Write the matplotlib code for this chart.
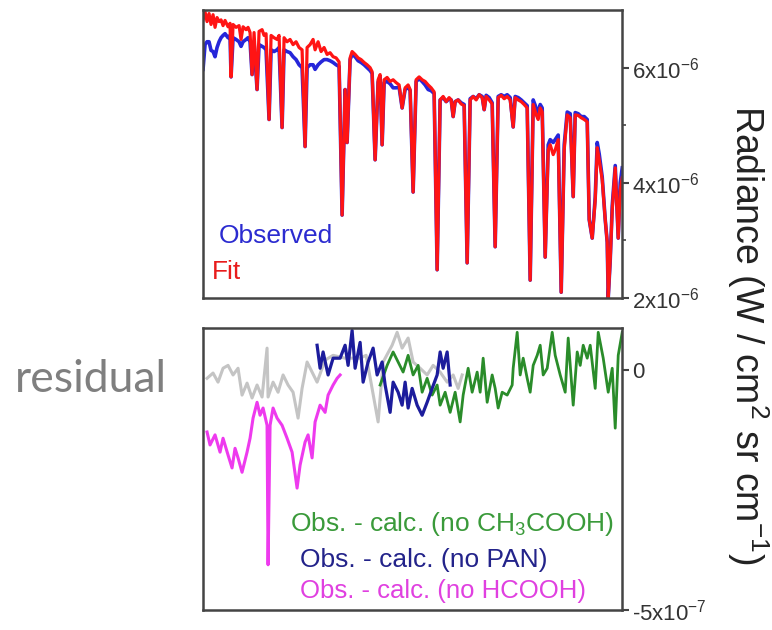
import matplotlib
matplotlib.use("Agg")
import matplotlib.pyplot as plt

# --- Fonts ---
plt.rcParams['font.family'] = ['Liberation Sans', 'DejaVu Sans']
plt.rcParams['mathtext.fontset'] = 'custom'
plt.rcParams['mathtext.rm'] = 'Liberation Sans'
plt.rcParams['mathtext.it'] = 'Liberation Sans'
plt.rcParams['mathtext.default'] = 'regular'

# --- Spectrum (radiance in 1e-6 W / cm2 sr cm-1), channel index ---
x_spec = [0, 2, 4, 6, 8, 10, 12, 14, 16, 18,
          20, 22, 25, 27, 28, 30, 33, 36, 38, 40,
          43, 45, 47, 49, 51, 54, 56, 59, 61, 63,
          66, 68, 71, 74, 76, 79, 81, 84, 87, 90,
          93, 96, 99, 102, 104, 107, 110, 112, 115, 118,
          121, 124, 127, 130, 133, 136, 139, 142, 144, 147,
          149, 152, 155, 158, 161, 164, 167, 169, 172, 175,
          177, 179, 181, 184, 187, 190, 193, 196, 199, 202,
          205, 207, 210, 213, 216, 219, 222, 225, 228, 231,
          234, 237, 240, 243, 246, 248, 250, 252, 255, 258,
          261, 264, 267, 270, 273, 276, 279, 281, 283, 286,
          289, 292, 295, 298, 301, 304, 307, 310, 312, 315,
          318, 321, 324, 327, 330, 333, 335, 337, 339, 342,
          345, 347, 350, 352, 355, 358, 361, 364, 367, 370,
          372, 375, 378, 381, 384, 386, 389, 392, 394, 396,
          399, 402, 404, 405, 407, 409, 412, 415, 417, 419]

fit = [6.83, 6.97, 6.80, 6.94, 6.75, 6.92, 6.70, 6.87, 6.80, 6.83,
       6.73, 6.82, 6.71, 6.77, 5.84, 6.75, 6.70, 6.73, 6.49, 6.71,
       6.66, 6.70, 6.61, 5.88, 6.61, 5.62, 6.63, 6.66, 6.56, 6.59,
       5.10, 6.56, 6.52, 6.49, 6.56, 4.96, 6.52, 6.45, 6.49, 6.40,
       6.45, 6.35, 6.31, 4.63, 6.35, 6.40, 6.49, 6.31, 6.45, 6.28,
       6.35, 6.23, 6.26, 6.19, 6.17, 6.10, 3.44, 5.62, 4.70, 6.17,
       6.28, 6.23, 6.17, 6.14, 6.09, 6.05, 6.00, 5.93, 4.40, 5.79,
       5.88, 4.66, 5.79, 5.83, 5.76, 5.79, 5.74, 5.70, 5.30, 5.65,
       5.70, 5.62, 3.84, 5.79, 5.84, 5.79, 5.76, 5.70, 5.65, 5.58,
       2.49, 5.44, 5.50, 5.41, 5.48, 5.44, 5.15, 5.41, 5.44, 5.37,
       5.34, 2.61, 5.44, 5.50, 5.44, 5.53, 5.48, 5.27, 5.50, 5.44,
       5.37, 2.89, 5.48, 5.52, 5.46, 5.50, 5.44, 4.97, 5.48, 5.44,
       5.41, 5.36, 5.30, 2.31, 5.36, 5.18, 5.10, 5.30, 5.23, 2.71,
       4.57, 4.66, 4.49, 4.57, 4.75, 2.10, 4.57, 5.18, 5.13, 3.76,
       5.18, 5.17, 5.13, 5.10, 5.06, 3.36, 3.04, 3.70, 4.61, 4.40,
       4.05, 3.36, 2.97, 2.00, 2.66, 3.53, 4.26, 3.04, 3.88, 4.09]

observed = [5.97, 6.40, 6.45, 6.45, 6.30, 6.28, 6.19, 6.35, 6.45, 6.52,
            6.56, 6.59, 6.52, 6.56, 5.84, 6.52, 6.49, 6.45, 6.37, 6.45,
            6.49, 6.52, 6.45, 5.88, 6.45, 5.62, 6.40, 6.37, 6.35, 6.31,
            5.10, 6.31, 6.28, 6.31, 6.35, 4.96, 6.31, 6.28, 6.26, 6.19,
            6.14, 6.05, 6.00, 4.63, 6.00, 6.05, 6.05, 5.97, 6.05, 6.10,
            6.14, 6.14, 6.12, 6.09, 6.05, 6.02, 3.44, 5.62, 4.70, 6.14,
            6.23, 6.19, 6.12, 6.09, 6.05, 6.00, 5.95, 5.90, 4.40, 5.75,
            5.84, 4.66, 5.74, 5.76, 5.72, 5.65, 5.65, 5.66, 5.30, 5.62,
            5.66, 5.60, 3.84, 5.76, 5.81, 5.76, 5.70, 5.62, 5.60, 5.55,
            2.49, 5.44, 5.48, 5.41, 5.46, 5.44, 5.15, 5.41, 5.44, 5.39,
            5.36, 2.61, 5.46, 5.50, 5.46, 5.53, 5.50, 5.27, 5.52, 5.48,
            5.39, 2.89, 5.50, 5.53, 5.50, 5.53, 5.48, 4.97, 5.50, 5.48,
            5.44, 5.39, 5.34, 2.31, 5.44, 5.30, 5.20, 5.36, 5.30, 2.71,
            4.66, 4.75, 4.70, 4.75, 4.83, 2.10, 4.66, 5.23, 5.20, 3.76,
            5.22, 5.20, 5.15, 5.15, 5.10, 3.36, 3.04, 3.75, 4.70, 4.50,
            4.10, 3.36, 2.97, 2.00, 2.66, 3.60, 4.30, 3.04, 4.00, 4.26]

# --- Residuals (1e-7 units) ---
x_gray = [4, 10, 15, 20, 25, 30, 35, 39, 44, 49, 54, 59, 64, 65, 70, 75,
          80, 85, 90, 95, 99, 104, 109, 114, 122, 130, 142, 157, 163, 175,
          180, 189, 194, 199, 205, 210, 217, 224, 230, 237, 244, 250, 255, 259]
res_gray = [-0.17, -0.06, -0.25, 0.04, 0.10, -0.10, 0.04, -0.52, -0.27, -0.58,
            -0.31, -0.56, 0.46, -0.56, -0.25, -0.46, -0.10, -0.31, -0.46, -1.00,
            -0.38, 0.17, -0.04, -0.25, 0.21, 0.31, 0.25, 0.25, 0.31, -1.08,
            0.17, 0.52, 0.79, 0.46, 0.67, 0.17, 0.04, -0.10, 0.10, -0.04,
            -0.25, -0.10, -0.38, -0.10]

x_hcooh = [4, 7, 12, 17, 20, 25, 29, 32, 35, 39, 44, 47, 50, 54, 57, 60,
           64, 65, 67, 70, 74, 79, 84, 89, 94, 97, 102, 105, 109, 112, 117,
           122, 125, 130, 134, 137]
res_hcooh = [-1.29, -1.56, -1.35, -1.71, -1.42, -1.77, -2.04, -1.63, -1.83, -2.13,
             -1.71, -1.42, -1.00, -0.67, -0.94, -0.79, -1.15, -4.06, -1.15, -0.79,
             -1.00, -1.15, -1.42, -1.71, -2.46, -1.98, -1.50, -1.35, -1.83, -1.08,
             -0.73, -0.88, -0.52, -0.31, -0.17, -0.10]

x_pan = [114, 117, 120, 125, 130, 137, 142, 145, 149, 152, 157, 160, 165,
         170, 174, 179, 182, 187, 190, 195, 199, 202, 205, 209, 214, 219,
         224, 229, 234, 237, 240, 244, 247]
res_pan = [0.52, 0.04, 0.38, -0.10, 0.25, 0.25, 0.52, 0.10, 0.83, 0.04,
           0.58, -0.25, 0.17, 0.46, -0.10, 0.17, -0.31, -0.88, -0.25, -0.46,
           -0.73, -0.25, -0.79, -0.38, -0.73, -0.94, -0.67, -0.38, -0.10, 0.38,
           0.04, 0.38, -0.31]

x_ch3cooh = [177, 184, 190, 195, 200, 205, 210, 215, 219, 224, 229, 234, 237,
             242, 247, 252, 257, 260, 265, 269, 274, 277, 280, 284, 289, 292,
             295, 299, 304, 309, 310, 314, 317, 320, 324, 327, 330, 334, 337,
             340, 344, 349, 352, 357, 362, 365, 370, 374, 377, 380, 384, 387,
             392, 395, 400, 405, 409, 412, 415, 419]
res_ch3cooh = [-0.31, 0.10, 0.38, 0.17, -0.04, 0.31, -0.10, 0.10, -0.46, -0.17,
               -0.52, -0.31, -0.73, -0.46, -0.88, -0.46, -1.08, -0.52, 0.04, -0.46,
               -0.04, -0.46, 0.25, -0.67, -0.10, -0.38, -0.79, -0.46, -0.52, -0.31,
               0.04, 0.79, -0.10, 0.25, -0.17, -0.46, 0.10, 0.31, 0.52, -0.10,
               0.04, 0.79, 0.31, -0.10, -0.46, 0.67, -0.73, 0.38, 0.10, 0.52,
               0.25, 0.52, -0.38, 0.79, 0.25, -0.46, 0.04, -1.21, 0.31, 0.79]

top_ticks = [2, 4, 6]
top_labels = [r'$2x10^{-6}$', r'$4x10^{-6}$', r'$6x10^{-6}$']
bot_ticks = [-5, 0]
bot_labels = [r'-$5x10^{-7}$', '0']

# --- Figure ---
fig = plt.figure(figsize=(7.72, 6.3), dpi=100)
ax1 = fig.add_axes([0.263, 0.527, 0.543, 0.457])
ax2 = fig.add_axes([0.263, 0.032, 0.543, 0.447])

ax1.plot(x_spec, observed, color='#2626d9', lw=2.6)
ax1.plot(x_spec, fit, color='#ff1414', lw=2.3)
ax1.set_ylim(2, 7)
ax1.set_yticks(top_ticks)
ax1.set_yticklabels(top_labels)
ax1.set_yticks([3, 5], minor=True)
ax1.text(0.038, 0.19, 'Observed', color='#2b2bd0', fontsize=19,
         transform=ax1.transAxes)
ax1.text(0.021, 0.066, 'Fit', color='#e81c1c', fontsize=19,
         transform=ax1.transAxes)

ax2.plot(x_gray, res_gray, color='#c4c4c4', lw=2.2)
ax2.plot(x_hcooh, res_hcooh, color='#ee3aee', lw=2.2)
ax2.plot(x_ch3cooh, res_ch3cooh, color='#2a8c2a', lw=2.0)
ax2.plot(x_pan, res_pan, color='#1c1c9c', lw=2.3)
ax2.set_ylim(-5, 0.875)
ax2.set_yticks(bot_ticks)
ax2.set_yticklabels(bot_labels)
ax2.text(0.208, 0.28, r'Obs. - calc. (no CH$_3$COOH)', color='#3a9a3a',
         fontsize=19, transform=ax2.transAxes)
ax2.text(0.231, 0.152, 'Obs. - calc. (no PAN)', color='#23238a',
         fontsize=19, transform=ax2.transAxes)
ax2.text(0.231, 0.043, 'Obs. - calc. (no HCOOH)', color='#e040e0',
         fontsize=18.5, transform=ax2.transAxes)

for ax in (ax1, ax2):
    ax.set_xlim(0, 419)
    ax.set_xticks([])
    ax.yaxis.tick_right()
    ax.tick_params(axis='y', which='major', length=5, width=1.5,
                   color='#444444', labelsize=16, labelcolor='#333333', pad=2)
    ax.tick_params(axis='y', which='minor', length=3, width=1.2,
                   color='#444444')
    for s in ax.spines.values():
        s.set_color('#444444')
        s.set_linewidth(1.8)

fig.text(0.969, 0.468, r'Radiance (W / cm$^2$ sr cm$^{-1}$)', rotation=-90,
         ha='center', va='center', fontsize=27, color='#222222')
fig.text(0.019, 0.378, 'residual', fontsize=32, color='#7f7f7f',
         family=['Lato', 'DejaVu Sans'], va='baseline')

fig.savefig('out.png', dpi=100)
